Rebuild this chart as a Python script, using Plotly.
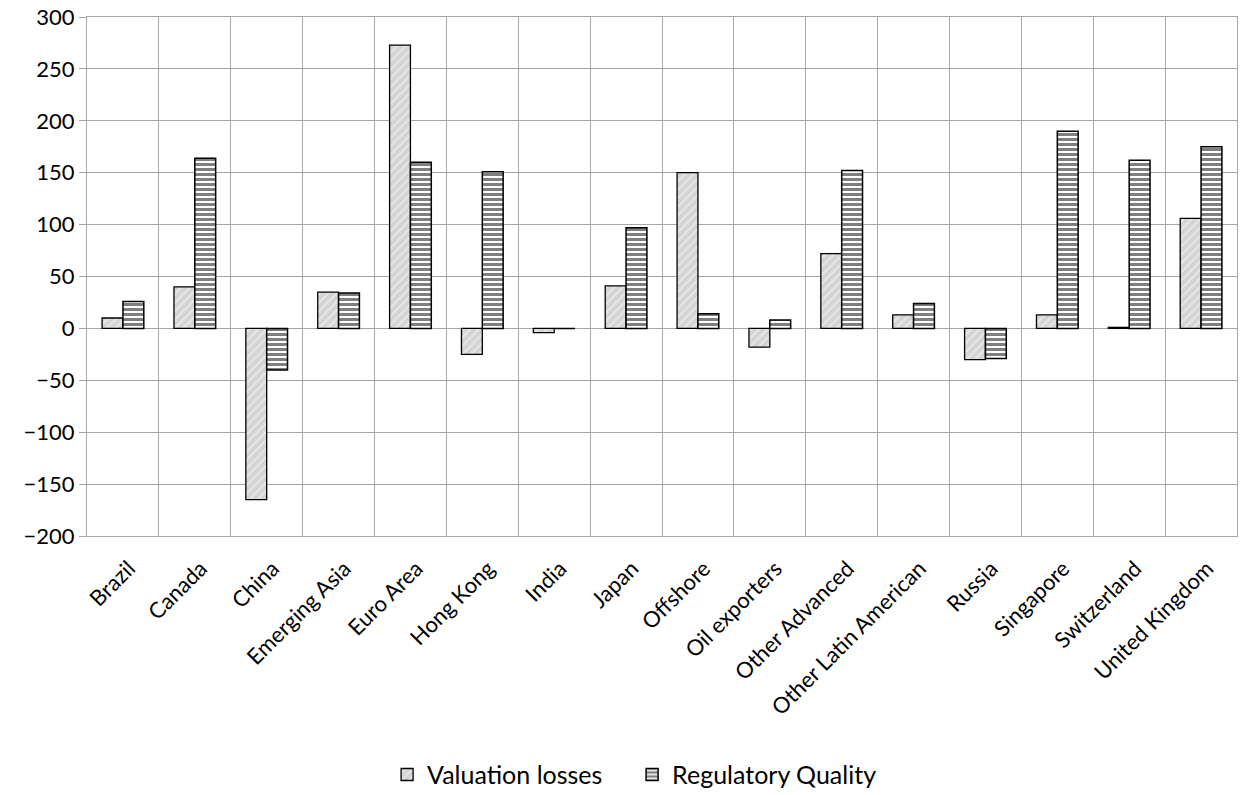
import plotly.graph_objects as go

categories = ["Brazil", "Canada", "China", "Emerging Asia", "Euro Area", "Hong Kong", "India",
              "Japan", "Offshore", "Oil exporters", "Other Advanced", "Other Latin American",
              "Russia", "Singapore", "Switzerland", "United Kingdom"]
valuation_losses = [10, 40, -165, 35, 273, -25, -4, 41, 150, -18, 72, 13, -30, 13, 1, 106]
regulatory_quality = [26, 164, -40, 34, 160, 151, 0, 97, 14, 8, 152, 24, -29, 190, 162, 175]

font_family = "Lato, Carlito, Calibri, sans-serif"

fig = go.Figure()
fig.add_trace(go.Bar(
    x=categories, y=valuation_losses, name="Valuation losses",
    marker=dict(color="#d4d4d4", line=dict(color="black", width=1.3),
                pattern=dict(shape="/", fgcolor="white", bgcolor="#d4d4d4", size=6, solidity=0.3)),
))
fig.add_trace(go.Bar(
    x=categories, y=regulatory_quality, name="Regulatory Quality",
    marker=dict(color="white", line=dict(color="black", width=1.5),
                pattern=dict(shape="-", fgcolor="black", bgcolor="white", size=5, solidity=0.6)),
))

fig.update_layout(
    width=1245, height=795,
    margin=dict(l=87, r=8, t=17, b=259, autoexpand=False),
    paper_bgcolor="white", plot_bgcolor="white",
    barmode="group", bargap=0.42, bargroupgap=0,
    font=dict(family=font_family, color="black", size=20),
    showlegend=True,
    legend=dict(orientation="h", x=0.474, xanchor="center", y=-0.46, yanchor="middle",
                font=dict(size=25), itemwidth=30, traceorder="normal", entrywidth=200),
)
fig.update_xaxes(
    type="category", tickson="boundaries", showgrid=True, gridcolor="#a6a6a6", gridwidth=1,
    tickangle=-45, ticks="", ticklabelstandoff=10, ticklabelshift=6, automargin=False,
    showline=True, linecolor="#a6a6a6", mirror=True, tickfont=dict(size=22),
)
fig.update_yaxes(
    range=[-200, 300], dtick=50, showgrid=True, gridcolor="#a6a6a6", gridwidth=1,
    zeroline=True, zerolinecolor="#a6a6a6", zerolinewidth=1, automargin=False,
    ticks="outside", ticklen=7, tickcolor="#a6a6a6", ticklabeloverflow="allow",
    showline=True, linecolor="#a6a6a6", mirror=True, tickfont=dict(size=22),
)

fig.write_html("out.html", config={"displayModeBar": False},
               post_script="document.body.style.margin='0px';")
